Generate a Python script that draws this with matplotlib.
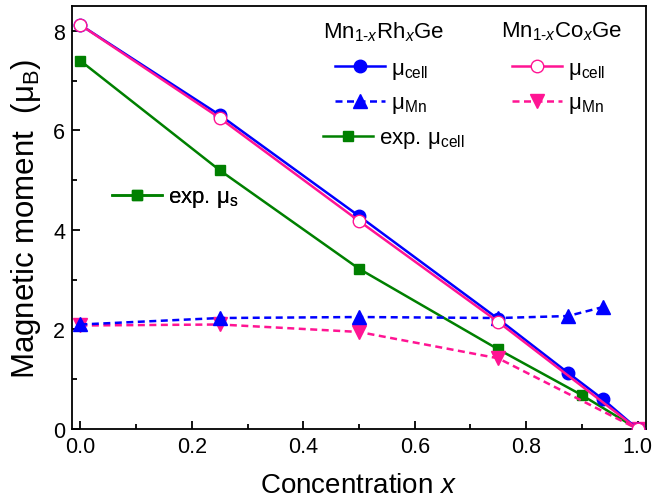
import matplotlib
matplotlib.use("Agg")
import matplotlib.pyplot as plt
from matplotlib.lines import Line2D

plt.rcParams['font.family'] = ['Liberation Sans', 'DejaVu Sans']
plt.rcParams['mathtext.fontset'] = 'custom'
plt.rcParams['mathtext.rm'] = 'Liberation Sans'
plt.rcParams['mathtext.it'] = 'Liberation Sans:italic'

# Data
x_rh = [0.0, 0.25, 0.5, 0.75, 0.875, 0.9375, 1.0]
rh_cell = [8.12, 6.31, 4.28, 2.21, 1.13, 0.60, 0.0]
x_rh_mn = [0.0, 0.25, 0.5, 0.75, 0.875, 0.9375]
rh_mn = [2.10, 2.23, 2.25, 2.23, 2.27, 2.45]
x_co = [0.0, 0.25, 0.5, 0.75, 1.0]
co_cell = [8.12, 6.25, 4.18, 2.15, 0.0]
co_mn = [2.08, 2.10, 1.95, 1.42, 0.0]
x_exp = [0.0, 0.25, 0.5, 0.75, 0.9, 1.0]
exp_cell = [7.40, 5.20, 3.22, 1.60, 0.68, 0.0]

blue = '#0000FF'
pink = '#FF1493'
green = '#008000'
LW = 1.8
DASH = (2.8, 1.8)

fig = plt.figure(figsize=(6.68, 5.02), dpi=100)
ax = fig.add_axes([72/668, 1-430/502, (646-72)/668, (430-7)/502])

ax.plot(x_exp, exp_cell, '-', color=green, lw=LW, marker='s', ms=7.5, zorder=2)
ax.plot(x_co, co_mn, color=pink, lw=LW, dashes=DASH, marker='v', ms=10, zorder=2)
ax.plot(x_rh_mn, rh_mn, color=blue, lw=LW, dashes=DASH, marker='^', ms=10, zorder=2)
ax.plot(x_rh, rh_cell, '-', color=blue, lw=LW, marker='o', ms=9, zorder=3)
ax.plot(x_co, co_cell, '-', color=pink, lw=LW, marker='o', ms=9, mfc='white', zorder=4)

ax.set_xlim(-0.015, 1.015)
ax.set_ylim(0, 8.5)
ax.set_xticks([0, 0.2, 0.4, 0.6, 0.8, 1.0])
ax.set_xticklabels(['0.0', '0.2', '0.4', '0.6', '0.8', '1.0'])
ax.set_xticks([0.1, 0.3, 0.5, 0.7, 0.9], minor=True)
ax.set_yticks([0, 2, 4, 6, 8])
ax.set_yticks([1, 3, 5, 7], minor=True)
ax.tick_params(which='both', direction='in', labelsize=15.5, width=1.3)
ax.tick_params(which='major', length=5.5)
ax.tick_params(which='minor', length=3.5)
ax.tick_params(axis='x', pad=5)
ax.tick_params(axis='y', pad=5)
for s in ax.spines.values():
    s.set_linewidth(1.3)

ax.set_xlabel('Concentration $\\mathit{x}$', fontsize=20, labelpad=10.5)
ax.set_ylabel('Magnetic moment  (μ$_{\\mathrm{B}}$)', fontsize=22.5, labelpad=7)

common = dict(frameon=False, fontsize=16, handlelength=2.25, handletextpad=0.25,
              borderpad=0, borderaxespad=0, loc='center left',
              bbox_transform=fig.transFigure)

def entry(handle, label, x0, y0):
    leg = ax.legend([handle], [label], bbox_to_anchor=(x0/668, 1-y0/502), **common)
    ax.add_artist(leg)

h_rh_cell = Line2D([], [], color=blue, lw=LW, marker='o', ms=9)
h_rh_mn = Line2D([], [], color=blue, lw=LW, dashes=DASH, marker='^', ms=10)
h_exp = Line2D([], [], color=green, lw=LW, marker='s', ms=7.5)
h_co_cell = Line2D([], [], color=pink, lw=LW, marker='o', ms=9, mfc='white')
h_co_mn = Line2D([], [], color=pink, lw=LW, dashes=DASH, marker='v', ms=10)

entry(h_rh_cell, 'μ$_{\\mathrm{cell}}$', 335, 70)
entry(h_rh_mn, 'μ$_{\\mathrm{Mn}}$', 335, 105)
entry(h_exp, 'exp. μ$_{\\mathrm{cell}}$', 323, 140)
entry(h_co_cell, 'μ$_{\\mathrm{cell}}$', 512, 70)
entry(h_co_mn, 'μ$_{\\mathrm{Mn}}$', 512, 105)
entry(h_exp, 'exp. μ$_{\\mathrm{s}}$', 112, 199)

fig.text(323/668, 1-32/502, 'Mn$_{1\\text{-}\\mathit{x}}$Rh$_{\\mathit{x}}$Ge', fontsize=16, va='center', ha='left')
fig.text(501/668, 1-32/502, 'Mn$_{1\\text{-}\\mathit{x}}$Co$_{\\mathit{x}}$Ge', fontsize=16, va='center', ha='left')

fig.savefig('out.png', dpi=100)
